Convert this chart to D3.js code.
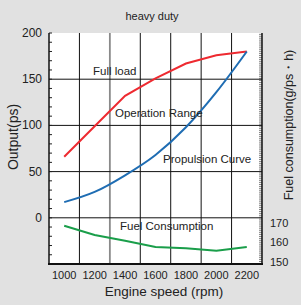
<!DOCTYPE html>
<html><head><meta charset="utf-8">
<script src="https://cdn.jsdelivr.net/npm/d3@7"></script>
<style>
html,body{margin:0;padding:0;background:#e1e1e1;}
svg{display:block;font-family:"Liberation Sans",Arial,sans-serif;}
</style></head>
<body>
<script>
const rpm = [1000, 1200, 1400, 1600, 1800, 2000, 2200];
const fullLoad = [66, 99, 132, 151, 167, 176, 180];
const propulsion = [17, 28, 46, 68, 98, 136, 180];
const fuel = [168.6, 163.8, 160.8, 157.5, 156.9, 155.6, 157.5];
const xTicks = [1000, 1200, 1400, 1600, 1800, 2000, 2200];
const yTicks = [0, 50, 100, 150, 200];
const fuelTicks = [150, 160, 170];
const vGrid = [1100, 1300, 1500, 1700, 1900, 2100];
const hGrid = [0, 50, 100, 150];

const W = 301, H = 305;
const svg = d3.select("body").append("svg").attr("width", W).attr("height", H);
svg.append("rect").attr("width", W).attr("height", H).attr("fill", "#e1e1e1");

const x = d3.scaleLinear().domain([900, 2300]).range([49, 262]);
const y = d3.scaleLinear().domain([-50, 200]).range([264, 33]);
const yf = d3.scaleLinear().domain([150, 170]).range([261.5, 223]);

svg.append("rect").attr("x", x(900)).attr("y", y(200))
  .attr("width", x(2300) - x(900)).attr("height", y(-50) - y(200)).attr("fill", "#fff");

// grid
svg.selectAll(".vg").data(vGrid).enter().append("line")
  .attr("x1", d => x(d)).attr("x2", d => x(d)).attr("y1", y(200)).attr("y2", y(-50))
  .attr("stroke", d => d === 1300 ? "#8a8a8a" : "#111").attr("stroke-width", d => d === 1300 ? 1.8 : 1);
svg.selectAll(".hg").data(hGrid).enter().append("line")
  .attr("x1", x(900)).attr("x2", x(2300)).attr("y1", d => y(d)).attr("y2", d => y(d))
  .attr("stroke", "#111").attr("stroke-width", 1);

// left axis minor ticks (inward)
const leftMinor = d3.range(-50, 201, 10);
svg.selectAll(".lm").data(leftMinor).enter().append("line")
  .attr("x1", x(900)).attr("x2", x(900) + 3).attr("y1", d => y(d)).attr("y2", d => y(d))
  .attr("stroke", "#222").attr("stroke-width", 1);

// right axis minor ticks (inward)
const rightMinor = d3.range(149, 269, 1);
svg.selectAll(".rm").data(rightMinor).enter().append("line")
  .attr("x1", x(2300) - 3).attr("x2", x(2300)).attr("y1", d => yf(d)).attr("y2", d => yf(d))
  .attr("stroke", "#333").attr("stroke-width", 0.6);

// axis lines
svg.append("line").attr("x1", x(900)).attr("x2", x(900)).attr("y1", y(200)).attr("y2", y(-50) + 1)
  .attr("stroke", "#111").attr("stroke-width", 1.5);
svg.append("line").attr("x1", x(2300)).attr("x2", x(2300)).attr("y1", y(200)).attr("y2", y(-50) + 1)
  .attr("stroke", "#111").attr("stroke-width", 1.5);
svg.append("line").attr("x1", x(900) - 1).attr("x2", x(2300) + 1).attr("y1", y(-50)).attr("y2", y(-50))
  .attr("stroke", "#111").attr("stroke-width", 2);

// lines
svg.append("path").attr("d", d3.line().x((d, i) => x(rpm[i])).y(d => y(d))(fullLoad))
  .attr("fill", "none").attr("stroke", "#ee2a30").attr("stroke-width", 2);
svg.append("path").attr("d", d3.line().x((d, i) => x(rpm[i])).y(d => y(d)).curve(d3.curveMonotoneX)(propulsion))
  .attr("fill", "none").attr("stroke", "#1f6db3").attr("stroke-width", 2);
svg.append("path").attr("d", d3.line().x((d, i) => x(rpm[i])).y(d => yf(d))(fuel))
  .attr("fill", "none").attr("stroke", "#1a9e4a").attr("stroke-width", 2);

// tick labels
svg.selectAll(".xt").data(xTicks).enter().append("text")
  .attr("x", d => x(d)).attr("y", 279).attr("text-anchor", "middle")
  .attr("font-size", 11).attr("fill", "#222").text(d => d);
svg.selectAll(".yt").data(yTicks).enter().append("text")
  .attr("x", 42).attr("y", d => y(d) + 4).attr("text-anchor", "end")
  .attr("font-size", 12).attr("fill", "#222").text(d => d);
svg.selectAll(".ft").data(fuelTicks).enter().append("text")
  .attr("x", 270).attr("y", d => yf(d) + 4).attr("text-anchor", "start")
  .attr("font-size", 11).attr("fill", "#222").text(d => d);

// titles
svg.append("text").attr("x", 152).attr("y", 20).attr("text-anchor", "middle")
  .attr("font-size", 11).attr("fill", "#222").text("heavy duty");
svg.append("text").attr("x", 164).attr("y", 296).attr("text-anchor", "middle")
  .attr("font-size", 13.5).attr("fill", "#222").text("Engine speed (rpm)");
svg.append("text").attr("transform", "translate(18,137) rotate(-90)").attr("text-anchor", "middle")
  .attr("font-size", 14).attr("fill", "#222").text("Output(ps)");
svg.append("text").attr("transform", "translate(293,125) rotate(-90)").attr("text-anchor", "middle")
  .attr("font-size", 12.5).attr("fill", "#222").text("Fuel consumption(g/ps・h)");

// annotations
const ann = [
  {t: "Full load", x: 93, y: 75},
  {t: "Operation Range", x: 115, y: 117},
  {t: "Propulsion Curve", x: 163, y: 163},
  {t: "Fuel Consumption", x: 120, y: 230}
];
svg.selectAll(".an").data(ann).enter().append("text")
  .attr("x", d => d.x).attr("y", d => d.y).attr("font-size", 11.5).attr("fill", "#222").text(d => d.t);
</script>
</body></html>
